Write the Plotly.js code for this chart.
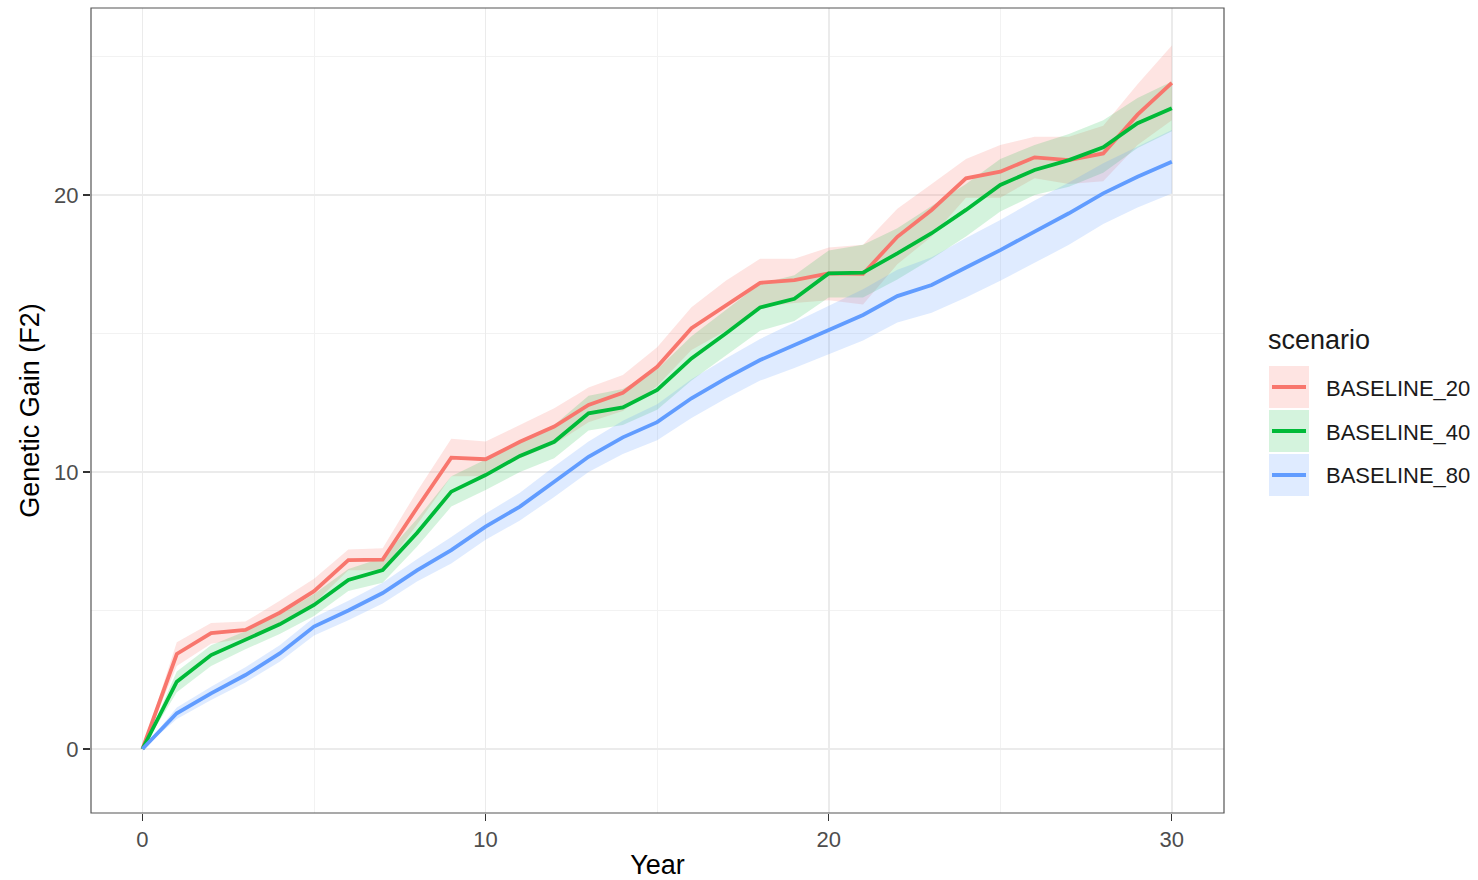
<!DOCTYPE html>
<html>
<head>
<meta charset="utf-8">
<script src="https://cdn.plot.ly/plotly-3.0.1.min.js"></script>
<style>
  html, body { margin: 0; padding: 0; background: #ffffff; }
  #chart { width: 1478px; height: 880px; }
</style>
</head>
<body>
<div id="chart"></div>
<script>
// ---------- data ----------
const years = [0,1,2,3,4,5,6,7,8,9,10,11,12,13,14,15,16,17,18,19,20,21,22,23,24,25,26,27,28,29,30];

const scenarios = ["BASELINE_20", "BASELINE_40", "BASELINE_80"];

const mean20 = [0,3.43,4.18,4.3,4.92,5.7,6.82,6.84,8.7,10.52,10.46,11.09,11.64,12.42,12.86,13.8,15.19,15.99,16.83,16.93,17.17,17.15,18.49,19.46,20.6,20.84,21.36,21.26,21.5,22.9,24.05];
const lower20 = [0,3.0,3.8,4.0,4.5,5.25,6.45,6.45,8.1,9.85,9.85,10.5,11.0,11.8,12.2,13.1,14.4,15.1,15.95,16.1,16.2,16.05,17.5,18.5,19.9,19.9,20.6,20.4,20.5,21.8,22.7];
const upper20 = [0,3.85,4.55,4.6,5.35,6.15,7.2,7.25,9.3,11.2,11.1,11.7,12.3,13.05,13.5,14.5,15.95,16.9,17.7,17.7,18.1,18.2,19.5,20.4,21.3,21.8,22.1,22.1,22.5,24.0,25.4];

const mean40 = [0,2.43,3.39,3.93,4.5,5.2,6.1,6.46,7.8,9.29,9.89,10.58,11.09,12.12,12.33,12.96,14.1,15.0,15.94,16.25,17.17,17.2,17.89,18.62,19.46,20.36,20.9,21.26,21.72,22.59,23.13];
const lower40 = [0,2.05,3.0,3.6,4.15,4.8,5.7,6.0,7.3,8.75,9.35,10.0,10.5,11.5,11.7,12.25,13.3,14.2,15.1,15.45,16.3,16.3,16.95,17.7,18.5,19.4,20.0,20.3,20.8,21.7,22.3];
const upper40 = [0,2.8,3.75,4.25,4.85,5.6,6.5,6.9,8.3,9.85,10.45,11.15,11.7,12.75,13.0,13.7,14.9,15.85,16.8,17.1,18.0,18.2,18.8,19.6,20.4,21.3,21.8,22.2,22.7,23.5,24.1];

const mean80 = [0,1.29,2.01,2.67,3.45,4.42,5.0,5.63,6.45,7.18,8.03,8.75,9.65,10.55,11.25,11.8,12.66,13.38,14.04,14.58,15.13,15.67,16.35,16.75,17.38,18.01,18.68,19.34,20.06,20.66,21.2];
const lower80 = [0,1.08,1.77,2.4,3.15,4.1,4.65,5.25,6.05,6.7,7.55,8.25,9.1,10.0,10.65,11.15,11.95,12.65,13.3,13.75,14.25,14.75,15.4,15.75,16.3,16.9,17.55,18.2,18.95,19.55,20.05];
const upper80 = [0,1.5,2.25,2.95,3.75,4.75,5.35,6.0,6.85,7.65,8.5,9.25,10.2,11.1,11.85,12.45,13.35,14.1,14.8,15.4,16.0,16.6,17.3,17.75,18.45,19.1,19.8,20.45,21.15,21.75,22.35];

const xTicks = [0, 10, 20, 30];
const yTicks = [0, 10, 20];

// ---------- styles ----------
const lineColors = ["#F8766D", "#00BA38", "#619CFF"];
const fillColors = ["rgba(248,118,109,0.2)", "rgba(0,186,56,0.17)", "rgba(97,156,255,0.2)"];
const means = [mean20, mean40, mean80];
const lowers = [lower20, lower40, lower80];
const uppers = [upper20, upper40, upper80];

const FONT = "Liberation Sans, Arial, Helvetica, sans-serif";
const traces = [];

// ribbons
for (let i = 0; i < scenarios.length; i++) {
  traces.push({
    x: years, y: lowers[i], type: "scatter", mode: "lines",
    line: {width: 0, color: fillColors[i]}, showlegend: false, hoverinfo: "skip"
  });
  traces.push({
    x: years, y: uppers[i], type: "scatter", mode: "lines",
    line: {width: 0, color: fillColors[i]}, fill: "tonexty", fillcolor: fillColors[i],
    showlegend: false, hoverinfo: "skip"
  });
}
// lines
for (let i = 0; i < scenarios.length; i++) {
  traces.push({
    x: years, y: means[i], type: "scatter", mode: "lines", name: scenarios[i],
    line: {width: 3.8, color: lineColors[i]}, showlegend: false
  });
}

// ---------- manual ggplot-style legend ----------
const W = 1478, H = 880;
const mL = 91, mR = 1478 - 1224, mT = 8, mB = 880 - 813;
const pw = W - mL - mR, ph = H - mT - mB;
const px = v => (v - mL) / pw;
const py = v => (H - mB - v) / ph;

const shapes = [];
const annotations = [];
const keyTops = [366, 410, 454];
for (let i = 0; i < scenarios.length; i++) {
  const t = keyTops[i];
  shapes.push({type: "rect", xref: "paper", yref: "paper",
    x0: px(1269), x1: px(1309), y0: py(t), y1: py(t + 42),
    fillcolor: fillColors[i], line: {width: 0}});
  shapes.push({type: "line", xref: "paper", yref: "paper",
    x0: px(1272), x1: px(1306), y0: py(t + 21), y1: py(t + 21),
    line: {color: lineColors[i], width: 3.8}});
  annotations.push({xref: "paper", yref: "paper", x: px(1324), y: py(t + 22),
    xanchor: "left", yanchor: "middle", showarrow: false, text: scenarios[i],
    font: {family: FONT, size: 22, color: "#1a1a1a"}});
}
annotations.push({xref: "paper", yref: "paper", x: px(1266), y: py(340),
  xanchor: "left", yanchor: "middle", showarrow: false, text: "scenario",
  font: {family: FONT, size: 27, color: "#1a1a1a"}});

const layout = {
  width: W, height: H,
  margin: {l: mL, r: mR, t: mT, b: mB, pad: 0},
  paper_bgcolor: "#ffffff", plot_bgcolor: "#ffffff",
  showlegend: false,
  font: {family: FONT},
  xaxis: {
    range: [-1.5, 31.52], tickvals: xTicks, ticktext: xTicks.map(String),
    showgrid: true, gridcolor: "#EBEBEB", gridwidth: 1.8,
    minor: {tickvals: [5, 15, 25], showgrid: true, gridcolor: "#F2F2F2", gridwidth: 1, ticks: ""},
    zeroline: false, showline: false,
    ticks: "outside", ticklen: 7, tickwidth: 1.2, tickcolor: "#333333",
    tickfont: {family: FONT, size: 22, color: "#4D4D4D"},
    title: {text: "Year", font: {family: FONT, size: 27, color: "#000000"}, standoff: 6}
  },
  yaxis: {
    range: [-2.31, 26.75], tickvals: yTicks, ticktext: yTicks.map(String),
    showgrid: true, gridcolor: "#EBEBEB", gridwidth: 1.8,
    minor: {tickvals: [5, 15, 25], showgrid: true, gridcolor: "#F2F2F2", gridwidth: 1, ticks: ""},
    zeroline: false, showline: false,
    ticks: "outside", ticklen: 7, tickwidth: 1.2, tickcolor: "#333333",
    tickfont: {family: FONT, size: 22, color: "#4D4D4D"},
    title: {text: "Genetic Gain (F2)", font: {family: FONT, size: 27, color: "#000000"}, standoff: 6}
  },
  shapes: [
    {type: "rect", xref: "paper", yref: "paper", x0: 0, x1: 1, y0: 0, y1: 1,
     line: {color: "#555555", width: 1.2}, fillcolor: "rgba(0,0,0,0)", layer: "above"}
  ].concat(shapes),
  annotations: annotations
};

Plotly.newPlot("chart", traces, layout, {displayModeBar: false, staticPlot: true});
</script>
</body>
</html>
